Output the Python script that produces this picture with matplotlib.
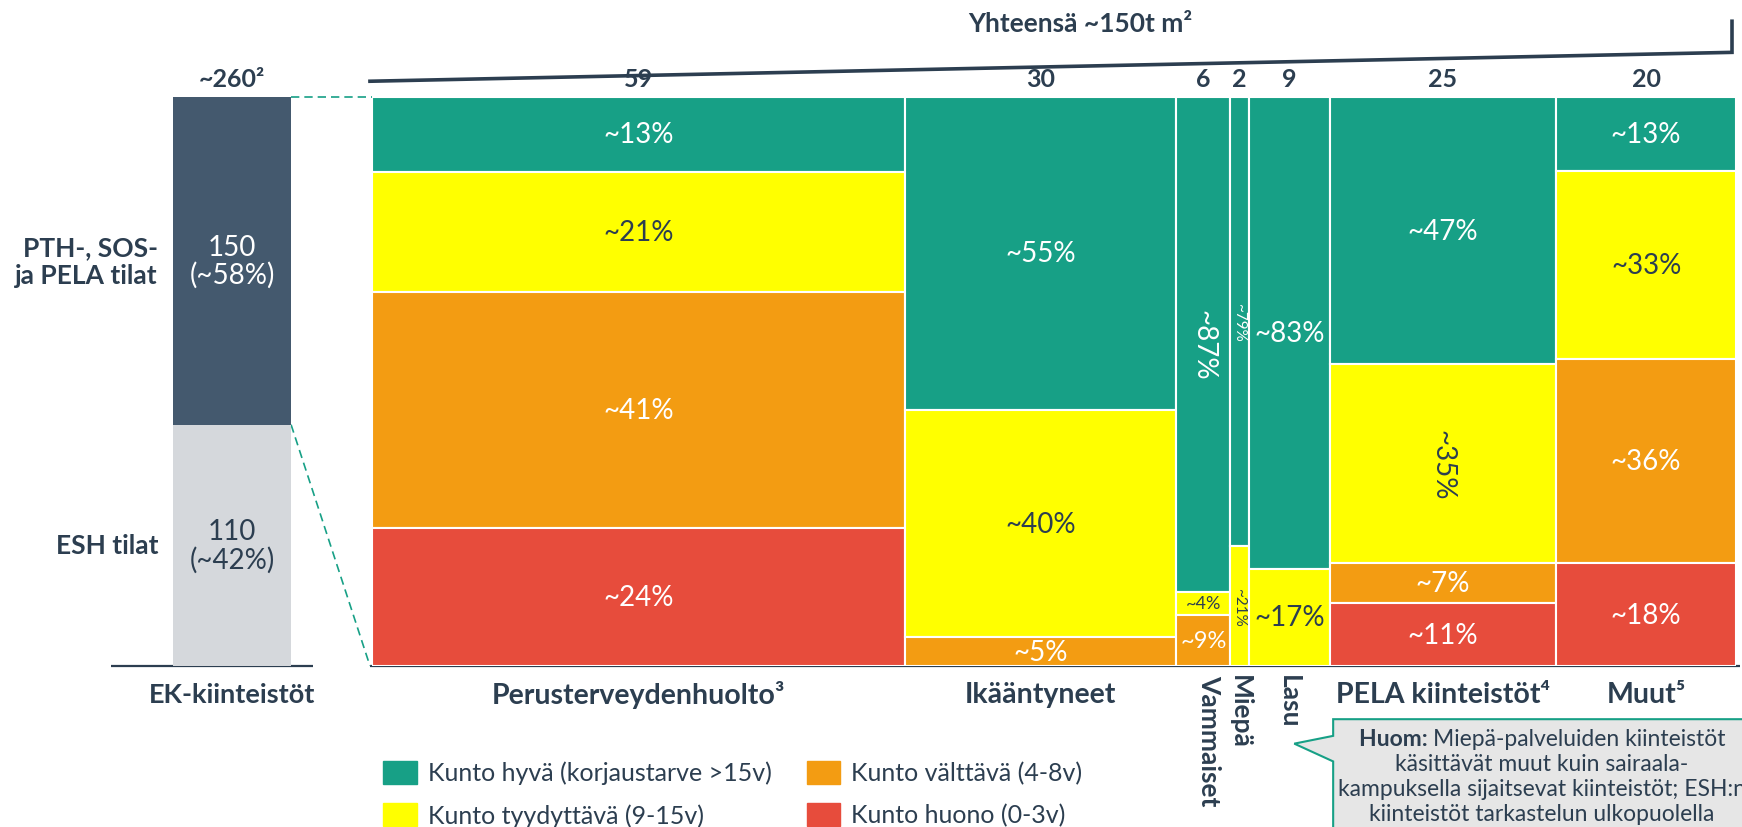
import numpy as np
import matplotlib
matplotlib.use("Agg")
import matplotlib.pyplot as plt
from matplotlib.patches import Polygon

plt.rcParams['font.family'] = ['Lato', 'DejaVu Sans']

# --- data ---
categories = ['Perusterveydenhuolto³', 'Ikääntyneet', 'Vammaiset', 'Miepä', 'Lasu',
              'PELA kiinteistöt⁴', 'Muut⁵']
area = [59, 30, 6, 2, 9, 25, 20]          # t m2
hyva = [13, 55, 87, 79, 83, 47, 13]       # % kunto hyvä
tyyd = [21, 40, 4, 21, 17, 35, 33]        # % kunto tyydyttävä
valt = [41, 5, 9, 0, 0, 7, 36]            # % kunto välttävä
huono = [24, 0, 0, 0, 0, 11, 18]          # % kunto huono
ek_labels = ['PTH-, SOS-\nja PELA tilat', 'ESH tilat']
ek_values = [150, 110]
ek_share = [58, 42]
legend_labels = ['Kunto hyvä (korjaustarve >15v)', 'Kunto tyydyttävä (9-15v)',
                 'Kunto välttävä (4-8v)', 'Kunto huono (0-3v)']

GREEN = '#17a086'
YELLOW = '#ffff00'
ORANGE = '#f39c12'
RED = '#e74c3c'
DARK = '#2c3e50'
seg_colors = [GREEN, YELLOW, ORANGE, RED]
txt_colors = ['white', DARK, 'white', 'white']

W, H = 1568.0, 745.0  # layout units


def fx(x):
    return x / W


def fy(y):
    return 1 - y / H


fig = plt.figure(figsize=(17.42, 8.28), dpi=100)

# overlay for decorations (layout units)
ov = fig.add_axes([0, 0, 1, 1])
ov.set_xlim(0, W)
ov.set_ylim(H, 0)
ov.axis('off')

# main mekko axes
ax = fig.add_axes([fx(335), fy(600), fx(1563) - fx(335), fy(88) - fy(600)])
total = sum(area)
ax.set_xlim(0, total)
ax.set_ylim(0, 100)
ax.axis('off')

# label style overrides: (col, seg) -> (rotation, size)
special = {(2, 0): (-90, 20), (2, 1): (0, 13), (2, 2): (0, 17),
           (3, 0): (-90, 11), (3, 1): (-90, 11),
           (5, 1): (-90, 20)}

series = [hyva, tyyd, valt, huono]
left = 0
for i, w in enumerate(area):
    vals = [s[i] for s in series]
    tot = float(sum(vals))
    top = 100.0
    for j, v in enumerate(vals):
        if v == 0:
            continue
        h = v / tot * 100
        ax.bar(left, h, width=w, bottom=top - h, align='edge', color=seg_colors[j],
               edgecolor='white', linewidth=1.5)
        rot, size = special.get((i, j), (0, 20))
        ax.text(left + w / 2, top - h / 2, '~%d%%' % v, ha='center', va='center',
                rotation=rot, fontsize=size, color=txt_colors[j], clip_on=False)
        top -= h
    xc = left + w / 2
    ax.text(xc, 103.2, str(w), ha='center', va='center', fontsize=18,
            fontweight='bold', color=DARK, clip_on=False)
    if w < 10:
        ax.text(xc + (0.6 if i == 2 else 0), -1.4, categories[i], ha='center', va='top',
                rotation=-90, fontsize=19, fontweight='bold', color=DARK, clip_on=False)
    else:
        ax.text(xc, -4.9, categories[i], ha='center', va='center', fontsize=20.5,
                fontweight='bold', color=DARK, clip_on=False)
    left += w

# left EK bar
ax2 = fig.add_axes([fx(156), fy(600), fx(262) - fx(156), fy(88) - fy(600)])
ax2.set_xlim(0, 1)
ax2.set_ylim(0, sum(ek_values))
ax2.axis('off')
ek_cols = ['#44596e', '#d5d8dc']
ek_txt = ['white', DARK]
bottom = sum(ek_values)
for k, v in enumerate(ek_values):
    ax2.bar(0, v, width=1, bottom=bottom - v, align='edge', color=ek_cols[k])
    yc = bottom - v / 2
    ax2.text(0.5, yc, '%d\n(~%d%%)' % (v, ek_share[k]), ha='center', va='center',
             fontsize=20, color=ek_txt[k], linespacing=1.05)
    ax2.text(-0.13, yc, ek_labels[k], ha='right', va='center', fontsize=19,
             fontweight='bold', color=DARK, linespacing=1.2, clip_on=False)
    bottom -= v
ax2.text(0.5, 260 * 1.032, '~%d²' % sum(ek_values), ha='center', va='center',
         fontsize=18, fontweight='bold', color=DARK, clip_on=False)
ax2.text(0.5, -260 * 0.049, 'EK-kiinteistöt', ha='center', va='center', fontsize=19.5,
         fontweight='bold', color=DARK, clip_on=False)

# baselines
ov.plot([100, 282], [600.5, 600.5], color=DARK, lw=1.6, solid_capstyle='butt')
ov.plot([333, 1566], [600.5, 600.5], color=DARK, lw=1.6, solid_capstyle='butt')

# dashed zoom lines
ov.plot([262, 335], [88, 88], color=GREEN, lw=1.2, ls=(0, (5, 3)))
ov.plot([262, 333], [383, 600], color=GREEN, lw=1.2, ls=(0, (5, 3)))

# top bracket
ov.plot([333, 1559, 1559], [74, 48, 20], color=DARK, lw=2.6, solid_joinstyle='miter')
ov.text(972, 22, 'Yhteensä ~%dt m²' % round(total, -1), ha='center', va='center',
        fontsize=19, fontweight='bold', color=DARK)

# legend
leg_pos = [(345, 696), (345, 734), (726, 696), (726, 734)]
leg_cols = [GREEN, YELLOW, ORANGE, RED]
for (lx, ly), c, lab in zip(leg_pos, leg_cols, legend_labels):
    ov.add_patch(plt.Rectangle((lx, ly - 10.5), 30, 21, color=c))
    ov.text(lx + 40, ly, lab, ha='left', va='center', fontsize=18, color=DARK)

# callout box
box = Polygon([(1200, 648), (1600, 648), (1600, 760), (1200, 760), (1200, 686),
               (1165, 670), (1200, 663)], closed=True, facecolor='#e6e6e6',
              edgecolor=GREEN, lw=1.5, clip_on=True)
ov.add_patch(box)
# first line: bold "Huom:" + regular rest, centered together
r = fig.canvas.get_renderer()
t1 = ov.text(0, 665, 'Huom: ', ha='left', va='center', fontsize=16.5,
             fontweight='bold', color=DARK)
t2 = ov.text(0, 665, 'Miepä-palveluiden kiinteistöt', ha='left', va='center',
             fontsize=16.5, color=DARK)
w1 = t1.get_window_extent(r).width
w2 = t2.get_window_extent(r).width
px_per_unit = fig.bbox.width / W
x_start = 1388 - (w1 + w2) / 2 / px_per_unit
t1.set_x(x_start)
t2.set_x(x_start + w1 / px_per_unit)
for n, line in enumerate(['käsittävät muut kuin sairaala-',
                          'kampuksella sijaitsevat kiinteistöt; ESH:n',
                          'kiinteistöt tarkastelun ulkopuolella']):
    ov.text(1388, 688 + n * 22.5, line, ha='center', va='center', fontsize=16.5,
            color=DARK, clip_on=True)

fig.savefig('out.png', dpi=100)
